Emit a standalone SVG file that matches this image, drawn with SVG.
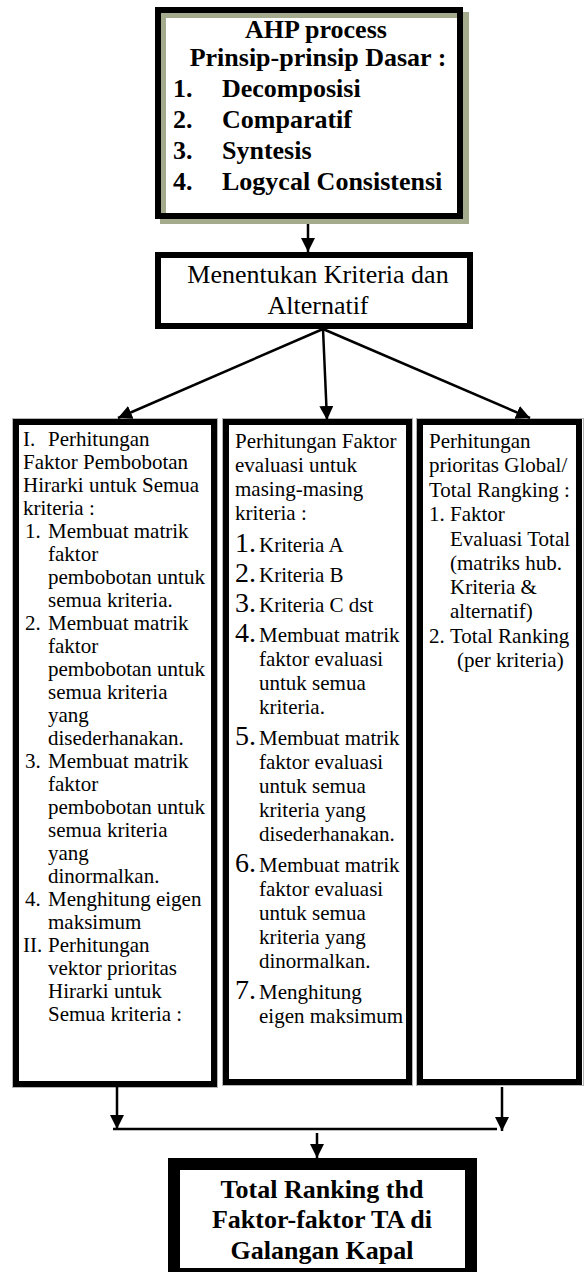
<svg xmlns="http://www.w3.org/2000/svg" width="584" height="1272" viewBox="0 0 584 1272">
<style>
.b{font-family:"Liberation Serif","Times New Roman",serif;font-weight:bold;font-size:26px;fill:#000}
.r{font-family:"Liberation Serif","Times New Roman",serif;font-size:26px;fill:#000}
.t{font-family:"Liberation Serif","Times New Roman",serif;font-size:21px;fill:#000}
.n{font-family:"Liberation Serif","Times New Roman",serif;font-size:28px;fill:#000}
.box{fill:#fff;stroke:#000;stroke-width:6}
.g{fill:none;stroke:#b4b4b4;stroke-width:1}
.c{stroke:#000;stroke-width:2.5;fill:none}
</style>
<defs>
<marker id="ah" viewBox="0 0 14 14" refX="14" refY="7" markerWidth="14" markerHeight="14" markerUnits="userSpaceOnUse" orient="auto">
<path d="M0,0 L14,7 L0,14 z" fill="#000"/>
</marker>
</defs>
<rect width="584" height="1272" fill="#fff"/>

<g id="n-ahp">
<rect x="163" y="15" width="303" height="206" fill="none" stroke="#a4ab8c" stroke-width="6"/>
<rect x="158" y="10" width="302" height="206" fill="none" stroke="#000" stroke-width="6"/>
<text class="b" x="316" y="38" text-anchor="middle">AHP process</text>
<text class="b" x="318" y="66" text-anchor="middle">Prinsip-prinsip Dasar :</text>
<text class="b" x="173" y="97">1.</text><text class="b" x="222" y="97">Decomposisi</text>
<text class="b" x="173" y="128">2.</text><text class="b" x="222" y="128">Comparatif</text>
<text class="b" x="173" y="159">3.</text><text class="b" x="222" y="159">Syntesis</text>
<text class="b" x="173" y="190">4.</text><text class="b" x="222" y="190">Logycal Consistensi</text>
</g>

<g id="n-kriteria">
<rect class="box" x="158" y="255" width="312" height="71"/>
<text class="r" x="318" y="283" text-anchor="middle">Menentukan Kriteria dan</text>
<text class="r" x="318" y="314" text-anchor="middle">Alternatif</text>
</g>

<g id="n-left">
<rect class="g" x="12.5" y="418.5" width="205" height="669"/>
<rect class="box" x="16" y="422" width="198" height="662"/>
<text class="t" x="23" y="446">I.</text><text class="t" x="48" y="446">Perhitungan</text>
<text class="t" x="23" y="469">Faktor Pembobotan</text>
<text class="t" x="23" y="492">Hirarki untuk Semua</text>
<text class="t" x="23" y="515">kriteria :</text>
<text class="t" x="25" y="538">1.</text><text class="t" x="48" y="538">Membuat matrik</text>
<text class="t" x="48" y="561">faktor</text>
<text class="t" x="48" y="584">pembobotan untuk</text>
<text class="t" x="48" y="607">semua kriteria.</text>
<text class="t" x="25" y="630">2.</text><text class="t" x="48" y="630">Membuat matrik</text>
<text class="t" x="48" y="653">faktor</text>
<text class="t" x="48" y="676">pembobotan untuk</text>
<text class="t" x="48" y="699">semua kriteria</text>
<text class="t" x="48" y="722">yang</text>
<text class="t" x="48" y="745">disederhanakan.</text>
<text class="t" x="25" y="768">3.</text><text class="t" x="48" y="768">Membuat matrik</text>
<text class="t" x="48" y="791">faktor</text>
<text class="t" x="48" y="814">pembobotan untuk</text>
<text class="t" x="48" y="837">semua kriteria</text>
<text class="t" x="48" y="860">yang</text>
<text class="t" x="48" y="883">dinormalkan.</text>
<text class="t" x="25" y="906">4.</text><text class="t" x="48" y="906">Menghitung eigen</text>
<text class="t" x="48" y="929">maksimum</text>
<text class="t" x="23" y="952">II.</text><text class="t" x="48" y="952">Perhitungan</text>
<text class="t" x="48" y="975">vektor prioritas</text>
<text class="t" x="48" y="998">Hirarki untuk</text>
<text class="t" x="48" y="1021">Semua kriteria :</text>
</g>

<g id="n-middle">
<rect class="g" x="222.5" y="418.5" width="190" height="667"/>
<rect class="box" x="226" y="422" width="183" height="660"/>
<text class="t" x="235" y="448">Perhitungan Faktor</text>
<text class="t" x="235" y="472">evaluasi untuk</text>
<text class="t" x="235" y="496">masing-masing</text>
<text class="t" x="235" y="520">kriteria :</text>
<text class="n" x="235" y="552">1.</text><text class="t" x="259" y="552">Kriteria A</text>
<text class="n" x="235" y="582">2.</text><text class="t" x="259" y="582">Kriteria B</text>
<text class="n" x="235" y="612">3.</text><text class="t" x="259" y="612">Kriteria C dst</text>
<text class="n" x="235" y="642">4.</text><text class="t" x="259" y="642">Membuat matrik</text>
<text class="t" x="259" y="666">faktor evaluasi</text>
<text class="t" x="259" y="690">untuk semua</text>
<text class="t" x="259" y="714">kriteria.</text>
<text class="n" x="235" y="745">5.</text><text class="t" x="259" y="745">Membuat matrik</text>
<text class="t" x="259" y="769">faktor evaluasi</text>
<text class="t" x="259" y="793">untuk semua</text>
<text class="t" x="259" y="817">kriteria yang</text>
<text class="t" x="259" y="841">disederhanakan.</text>
<text class="n" x="235" y="872">6.</text><text class="t" x="259" y="872">Membuat matrik</text>
<text class="t" x="259" y="896">faktor evaluasi</text>
<text class="t" x="259" y="920">untuk semua</text>
<text class="t" x="259" y="944">kriteria yang</text>
<text class="t" x="259" y="968">dinormalkan.</text>
<text class="n" x="235" y="999">7.</text><text class="t" x="259" y="999">Menghitung</text>
<text class="t" x="259" y="1023">eigen maksimum</text>
</g>

<g id="n-right">
<rect class="g" x="416.5" y="418.5" width="167" height="667"/>
<rect class="box" x="420" y="422" width="159" height="660"/>
<text class="t" x="429" y="448">Perhitungan</text>
<text class="t" x="429" y="472">prioritas Global/</text>
<text class="t" x="429" y="497">Total Rangking :</text>
<text class="t" x="429" y="521">1.</text><text class="t" x="450" y="521">Faktor</text>
<text class="t" x="450" y="546">Evaluasi Total</text>
<text class="t" x="450" y="570">(matriks hub.</text>
<text class="t" x="450" y="594">Kriteria &amp;</text>
<text class="t" x="450" y="618">alternatif)</text>
<text class="t" x="429" y="643">2.</text><text class="t" x="450" y="643">Total Ranking</text>
<text class="t" x="457" y="667">(per kriteria)</text>
</g>

<g id="n-total">
<rect x="174" y="1164" width="297" height="110" fill="#fff" stroke="#000" stroke-width="12"/>
<text class="b" x="322" y="1198" text-anchor="middle">Total Ranking thd</text>
<text class="b" x="322" y="1228" text-anchor="middle">Faktor-faktor TA di</text>
<text class="b" x="322" y="1259" text-anchor="middle">Galangan Kapal</text>
</g>

<g id="connectors">
<line class="c" x1="308" y1="224" x2="308" y2="252" marker-end="url(#ah)"/>
<line class="c" x1="323" y1="329" x2="118" y2="418" marker-end="url(#ah)"/>
<line class="c" x1="323" y1="329" x2="327" y2="420" marker-end="url(#ah)"/>
<line class="c" x1="323" y1="329" x2="530" y2="418" marker-end="url(#ah)"/>
<line class="c" x1="117" y1="1087" x2="117" y2="1129" marker-end="url(#ah)"/>
<line class="c" x1="502" y1="1087" x2="502" y2="1131" marker-end="url(#ah)"/>
<line class="c" x1="113" y1="1129" x2="497" y2="1129"/>
<line class="c" x1="317" y1="1133" x2="317" y2="1158" marker-end="url(#ah)"/>
</g>
</svg>
